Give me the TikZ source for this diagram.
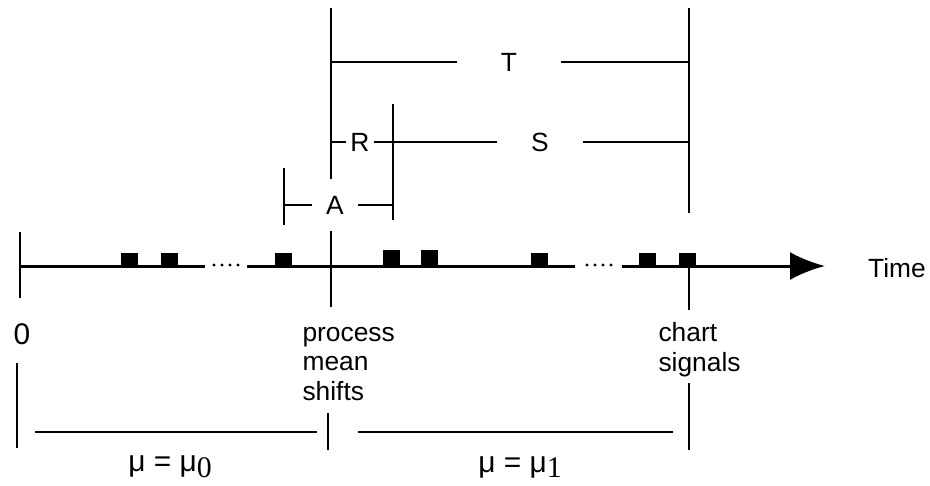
\documentclass[tikz,border=0pt]{standalone}
\usepackage{fontspec}
\setmainfont{Liberation Sans}
\newfontfamily\subfont{Liberation Serif}
\usetikzlibrary{arrows.meta}

\newcommand{\muval}[1]{μ = μ\raisebox{-0.35ex}{\subfont #1}}

\begin{document}
\begin{tikzpicture}[x=0.02cm, y=-0.02cm, font=\fontsize{15}{17}\selectfont, line width=0.8pt,
  axisline/.style={line width=1.7pt},
  endtick/.style={line width=1.5pt},
  gaplabel/.style={inner sep=0pt, minimum height=0.5cm}]
\useasboundingbox (0,0) rectangle (930,485);

% time axis, broken where the dots are
\coordinate (Origin) at (20,266);
\coordinate (GapA) at (205,266); \coordinate (GapB) at (247,266);
\coordinate (GapC) at (575,266); \coordinate (GapD) at (622,266);
\coordinate (AxisEnd) at (825,266);
\draw[axisline] (Origin) -- (GapA);
\draw[axisline] (GapB) -- (GapC);
\draw[axisline, -{Latex[length=0.7cm,width=0.56cm]}] (GapD) -- (AxisEnd);
\foreach \x in {214,222,230,238,587,595,603,611} \fill (\x,265) circle (1.6);
\node (Time) at (897,268) {Time};

% samples
\foreach \x in {129,169,283,539,647,687} \fill (\x-8.5,266) rectangle (\x+8.5,253);
\foreach \x in {391,429} \fill (\x-8.5,266) rectangle (\x+8.5,250);

% time zero
\draw[endtick] (20,232) -- (20,298);
\node (Zero) at (22,334) {\fontsize{17}{17}\selectfont 0};

% process mean shifts
\node (Shift) [anchor=west, align=left] at (296,364) {process\\mean\\shifts};
\coordinate (ShiftTop) at (331,8);
\coordinate (ShiftBot) at (331,307);

% chart signals
\node (Signal) [anchor=west, align=left] at (652,350) {chart\\signals};
\coordinate (SigTop) at (689,8);  \coordinate (SigMid) at (689,213);
\draw[endtick] (SigTop) -- (SigMid);
\draw (689,266) -- (689,310);

% T
\node (T) [gaplabel, minimum width=2.04cm] at (509,62) {T};
\draw (ShiftTop |- T) -- (T);
\draw (T) -- (SigTop |- T);

% R and S
\coordinate (RSplit) at (393,104);
\coordinate (RSplitBot) at (393,220);
\draw (RSplit) -- (RSplitBot);
\node (R) [gaplabel, minimum width=0.52cm] at (360,142) {R};
\node (S) [gaplabel, minimum width=1.7cm] at (540,142) {S};
\draw (ShiftTop |- R) -- (R);
\draw (R) -- (S);
\draw (S) -- (SigTop |- S);

% A
\coordinate (AStart) at (284,168);
\coordinate (AStartBot) at (284,225);
\draw[endtick] (AStart) -- (AStartBot);
\node (A) [gaplabel, minimum width=0.88cm, minimum height=1cm] at (335,205) {A};
\draw (AStart |- A) -- (A);
\draw (A) -- (RSplit |- A);
\draw (ShiftTop) -- (ShiftTop |- A.north);
\draw (ShiftTop |- A.south) -- (ShiftBot);

% in-control and out-of-control spans
\draw (17,363) -- (17,448);
\draw (328,413) -- (328,450);
\draw (689,383) -- (689,450);
\coordinate (InL) at (35,432);  \coordinate (InR) at (317,432);
\coordinate (OutL) at (358,432); \coordinate (OutR) at (673,432);
\draw (InL) -- (InR);
\draw (OutL) -- (OutR);
\node (MuZero) at (170,467) {\fontsize{17}{17}\selectfont\muval{0}};
\node (MuOne) at (520,467) {\fontsize{17}{17}\selectfont\muval{1}};
\end{tikzpicture}
\end{document}
